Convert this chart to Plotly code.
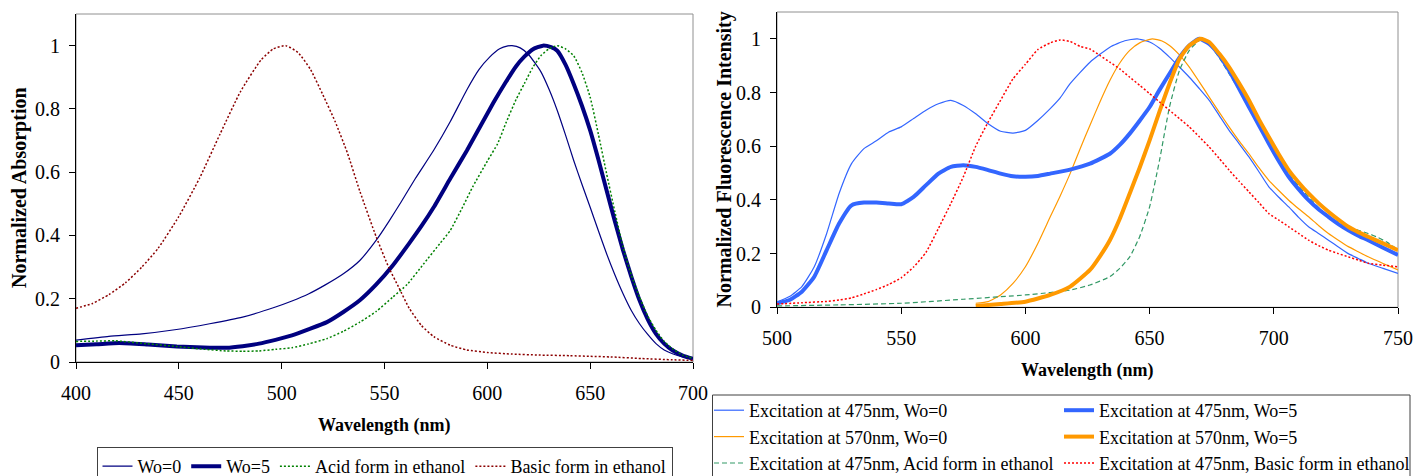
import plotly.graph_objects as go

# ---------------- Left chart: absorption ----------------
abs_wl_wo0 = [400, 416, 432, 448, 465, 481, 497, 505, 513, 521, 530, 538, 546, 552, 558, 565, 574, 582, 590, 596,
              601, 606, 610, 612, 616, 620, 626, 630, 634, 638, 642, 646, 650, 654, 658, 662, 666, 670, 674,
              678, 682, 686, 690, 695, 700]
abs_wo0 = [0.069, 0.081, 0.089, 0.102, 0.121, 0.142, 0.174, 0.193, 0.215, 0.243, 0.279, 0.321, 0.385, 0.443,
           0.505, 0.58, 0.67, 0.76, 0.86, 0.925, 0.963, 0.99, 0.999, 1.0, 0.993, 0.972, 0.918, 0.862, 0.795,
           0.718, 0.637, 0.562, 0.489, 0.415, 0.342, 0.276, 0.216, 0.163, 0.121, 0.087, 0.058, 0.038, 0.026,
           0.016, 0.01]

abs_wl_wo5 = [400, 410, 421, 435, 449, 462, 473, 481, 489, 497, 505, 513, 522, 530, 538, 546, 554, 562, 568, 574,
              582, 590, 597, 603, 609, 614, 618, 622, 627, 631, 634, 638, 642, 646, 650, 654, 658, 662, 666,
              670, 674, 678, 682, 686, 690, 695, 700]
abs_wo5 = [0.053, 0.056, 0.06, 0.055, 0.049, 0.046, 0.045, 0.05, 0.058, 0.07, 0.084, 0.103, 0.126, 0.158, 0.195,
           0.245, 0.305, 0.375, 0.43, 0.49, 0.58, 0.668, 0.75, 0.82, 0.885, 0.935, 0.965, 0.988, 1.0, 0.995,
           0.984, 0.94, 0.879, 0.81, 0.732, 0.64, 0.542, 0.445, 0.353, 0.27, 0.195, 0.135, 0.089, 0.058,
           0.037, 0.02, 0.01]

abs_wl_acid = [400, 410, 419, 434, 449, 461, 473, 481, 489, 497, 505, 513, 522, 530, 538, 546, 554, 561, 569,
               577, 582, 588, 593, 600, 605, 609, 614, 618, 622, 626, 630, 634, 638, 642, 646, 650, 654, 658,
               662, 666, 670, 674, 678, 682, 686, 690, 695, 700]
abs_acid = [0.065, 0.066, 0.067, 0.058, 0.049, 0.041, 0.035, 0.034, 0.035, 0.04, 0.045, 0.057, 0.074, 0.097,
            0.126, 0.16, 0.205, 0.245, 0.31, 0.375, 0.416, 0.49, 0.555, 0.635, 0.69, 0.755, 0.83, 0.88, 0.93,
            0.968, 0.99, 1.0, 0.99, 0.968, 0.915, 0.837, 0.72, 0.595, 0.475, 0.363, 0.275, 0.205, 0.145, 0.1,
            0.065, 0.042, 0.022, 0.012]

abs_wl_basic = [400, 408, 416, 424, 432, 440, 450, 460, 470, 480, 490, 496, 502, 508, 514, 520, 526, 532, 538,
                546, 552, 557, 562, 568, 574, 582, 590, 600, 612, 625, 640, 650, 660, 675, 690, 700]
abs_basic = [0.17, 0.185, 0.213, 0.25, 0.3, 0.36, 0.46, 0.58, 0.72, 0.855, 0.955, 0.99, 1.0, 0.978, 0.925, 0.845,
             0.76, 0.66, 0.54, 0.395, 0.3, 0.235, 0.17, 0.115, 0.08, 0.053, 0.038, 0.03, 0.025, 0.022, 0.02,
             0.018, 0.016, 0.011, 0.007, 0.005]

# ---------------- Right chart: fluorescence ----------------
fl_wl_b0 = [500, 505, 510, 515, 520, 525, 530, 535, 540, 545, 550, 555, 560, 565, 570, 575, 580, 585, 590, 595,
            600, 605, 610, 614, 618, 626, 634, 640, 645, 650, 654, 658, 662, 666, 670, 674, 678, 682, 686, 690,
            694, 698, 702, 706, 710, 714, 718, 722, 726, 730, 734, 738, 744, 750]
fl_b0 = [0.02, 0.04, 0.077, 0.151, 0.275, 0.424, 0.535, 0.591, 0.62, 0.653, 0.672, 0.703, 0.734, 0.758, 0.771,
         0.752, 0.721, 0.684, 0.656, 0.649, 0.659, 0.696, 0.74, 0.78, 0.833, 0.913, 0.969, 0.993, 1.0, 0.988,
         0.965, 0.932, 0.895, 0.857, 0.815, 0.771, 0.715, 0.659, 0.61, 0.56, 0.505, 0.449, 0.41, 0.374, 0.335,
         0.3, 0.275, 0.25, 0.225, 0.2, 0.182, 0.164, 0.145, 0.126]

fl_wl_b5 = [500, 505, 510, 515, 520, 525, 530, 535, 540, 545, 550, 555, 560, 565, 570, 575, 580, 585, 590, 595,
            600, 605, 610, 618, 626, 634, 638, 642, 646, 650, 654, 658, 662, 666, 670, 674, 678, 682, 686, 690,
            694, 698, 702, 706, 710, 714, 718, 722, 726, 730, 734, 738, 744, 750]
fl_b5 = [0.015, 0.027, 0.058, 0.114, 0.213, 0.312, 0.38, 0.39, 0.39, 0.387, 0.384, 0.411, 0.455, 0.498, 0.523,
         0.529, 0.523, 0.511, 0.498, 0.488, 0.486, 0.489, 0.498, 0.513, 0.535, 0.572, 0.605, 0.647, 0.695,
         0.746, 0.81, 0.87, 0.93, 0.975, 1.0, 0.981, 0.94, 0.882, 0.815, 0.746, 0.678, 0.61, 0.545, 0.486,
         0.44, 0.399, 0.365, 0.337, 0.31, 0.287, 0.267, 0.25, 0.222, 0.195]

fl_wl_o0 = [580, 585, 590, 595, 600, 605, 610, 614, 618, 622, 626, 630, 634, 638, 642, 646, 651, 655, 658, 662,
            666, 670, 674, 678, 682, 686, 690, 694, 698, 702, 706, 710, 714, 718, 722, 726, 730, 734, 738, 744,
            750]
fl_o0 = [0.015, 0.021, 0.046, 0.089, 0.151, 0.238, 0.337, 0.415, 0.498, 0.59, 0.678, 0.765, 0.845, 0.91, 0.957,
         0.985, 1.0, 0.992, 0.975, 0.94, 0.895, 0.84, 0.783, 0.727, 0.672, 0.62, 0.572, 0.52, 0.473, 0.435,
         0.399, 0.367, 0.337, 0.305, 0.275, 0.25, 0.226, 0.207, 0.188, 0.163, 0.139]

fl_wl_o5 = [580, 590, 600, 610, 618, 626, 630, 634, 638, 642, 646, 650, 654, 658, 662, 666, 670.5, 674, 678, 682,
            686, 690, 694, 698, 702, 706, 710, 714, 718, 722, 726, 730, 734, 738, 744, 750]
fl_o5 = [0.005, 0.012, 0.021, 0.046, 0.077, 0.139, 0.19, 0.25, 0.33, 0.424, 0.52, 0.622, 0.73, 0.833, 0.925,
         0.975, 1.0, 0.988, 0.945, 0.895, 0.835, 0.771, 0.7, 0.634, 0.57, 0.511, 0.465, 0.424, 0.388, 0.356,
         0.327, 0.3, 0.28, 0.263, 0.238, 0.213]

fl_wl_acid = [500, 525, 550, 575, 600, 610, 618, 626, 634, 638, 642, 646, 650, 654, 658, 662, 666, 670, 672, 674,
              678, 682, 686, 690, 694, 698, 702, 706, 710, 714, 718, 722, 726, 730, 734, 738, 742, 746, 750]
fl_acid = [0.005, 0.009, 0.015, 0.03, 0.046, 0.055, 0.064, 0.083, 0.114, 0.145, 0.188, 0.263, 0.374, 0.548,
           0.746, 0.882, 0.957, 0.994, 1.0, 0.981, 0.93, 0.87, 0.81, 0.746, 0.685, 0.622, 0.56, 0.498, 0.452,
           0.411, 0.372, 0.337, 0.318, 0.3, 0.287, 0.275, 0.26, 0.24, 0.213]

fl_wl_basic = [500, 510, 520, 525, 530, 535, 540, 545, 550, 555, 560, 565, 570, 575, 580, 585, 590, 595, 600, 605,
               610, 614, 618, 622, 626, 630, 634, 638, 642, 646, 650, 654, 658, 662, 666, 670, 674, 678, 682,
               686, 690, 694, 698, 702, 706, 710, 714, 718, 722, 726, 730, 734, 738, 744, 750]
fl_basic = [0.012, 0.017, 0.022, 0.027, 0.035, 0.05, 0.066, 0.085, 0.11, 0.15, 0.205, 0.294, 0.387, 0.486, 0.6,
            0.69, 0.771, 0.851, 0.905, 0.96, 0.985, 0.996, 0.99, 0.972, 0.962, 0.938, 0.913, 0.888, 0.857,
            0.827, 0.796, 0.765, 0.734, 0.703, 0.672, 0.635, 0.597, 0.555, 0.511, 0.47, 0.43, 0.39, 0.349,
            0.325, 0.3, 0.275, 0.25, 0.23, 0.213, 0.2, 0.188, 0.176, 0.164, 0.157, 0.151]

FONT = "Liberation Serif, Times New Roman, serif"
W, H = 1414, 476
NAVY = "#000080"
BLUE = "#3366FF"
ORANGE = "#FF9900"


def px(x):
    return x / W


def py(y):
    return 1 - y / H


fig = go.Figure()


def add(xs, ys, name, color, width, dash, xa, ya, legend):
    fig.add_trace(go.Scatter(
        x=xs, y=ys, name=name, mode="lines", xaxis=xa, yaxis=ya, legend=legend,
        line=dict(color=color, width=width, dash=dash, shape="spline", smoothing=0.5),
        hoverinfo="skip"))


# left
add(abs_wl_wo0, abs_wo0, "Wo=0", NAVY, 1.2, "solid", "x", "y", "legend")
add(abs_wl_wo5, abs_wo5, "Wo=5", NAVY, 4, "solid", "x", "y", "legend")
add(abs_wl_acid, abs_acid, "Acid form in ethanol", "#008000", 1.5, "2px,2px", "x", "y", "legend")
add(abs_wl_basic, abs_basic, "Basic form in ethanol", "#8B0000", 1.5, "2px,2px", "x", "y", "legend")

# right
add(fl_wl_b0, fl_b0, "Excitation at 475nm, Wo=0", BLUE, 1.2, "solid", "x2", "y2", "legend2")
add(fl_wl_o0, fl_o0, "Excitation at 570nm, Wo=0", ORANGE, 1.2, "solid", "x2", "y2", "legend2")
add(fl_wl_acid, fl_acid, "Excitation at 475nm, Acid form in ethanol", "#339966", 1.2, "5px,3px", "x2", "y2", "legend2")
add(fl_wl_b5, fl_b5, "Excitation at 475nm, Wo=5", BLUE, 4, "solid", "x2", "y2", "legend3")
add(fl_wl_o5, fl_o5, "Excitation at 570nm, Wo=5", ORANGE, 4, "solid", "x2", "y2", "legend3")
add(fl_wl_basic, fl_basic, "Excitation at 475nm, Basic form in ethanol", "#FF0000", 1.5, "2px,2px", "x2", "y2", "legend3")

axis_common = dict(showline=True, linecolor="black", linewidth=1, ticks="outside", ticklen=6,
                   tickcolor="black", tickwidth=1, showgrid=False, zeroline=False,
                   tickfont=dict(family=FONT, size=20, color="black"), automargin=False)

legend_font = dict(family=FONT, size=18, color="black")

fig.update_layout(
    width=W, height=H,
    margin=dict(l=0, r=0, t=0, b=0, autoexpand=False),
    paper_bgcolor="white", plot_bgcolor="white",
    font=dict(family=FONT, size=18, color="black"),
    xaxis=dict(domain=[px(76), px(693)], range=[400, 700], dtick=50, tick0=400, anchor="y",
               ticklabelstandoff=7, **axis_common),
    yaxis=dict(domain=[py(362), py(14)], range=[0, 1.1], tickvals=[0, 0.2, 0.4, 0.6, 0.8, 1],
               anchor="x", ticklabelstandoff=5, **axis_common),
    xaxis2=dict(domain=[px(777), px(1398)], range=[500, 750], dtick=50, tick0=500, anchor="y2",
                ticklabelstandoff=7, **axis_common),
    yaxis2=dict(domain=[py(307.3), py(12)], range=[0, 1.1], tickvals=[0, 0.2, 0.4, 0.6, 0.8, 1],
                anchor="x2", ticklabelstandoff=5, **axis_common),
    legend=dict(orientation="h", x=px(384.5), y=py(447), xanchor="center", yanchor="top",
                bordercolor="#404040", borderwidth=1, bgcolor="white", font=legend_font, itemwidth=30),
    legend2=dict(orientation="v", x=px(709), y=py(392), xanchor="left", yanchor="top",
                 borderwidth=0, bgcolor="rgba(0,0,0,0)", font=legend_font, itemwidth=30),
    legend3=dict(orientation="v", x=px(1059), y=py(392), xanchor="left", yanchor="top",
                 borderwidth=0, bgcolor="rgba(0,0,0,0)", font=legend_font, itemwidth=30),
    showlegend=True,
)

# plot-area borders (gray) and right legend box
fig.add_shape(type="rect", xref="x domain", yref="y domain", x0=0, x1=1, y0=0, y1=1,
              line=dict(color="#909090", width=1), layer="below")
fig.add_shape(type="rect", xref="x2 domain", yref="y2 domain", x0=0, x1=1, y0=0, y1=1,
              line=dict(color="#909090", width=1), layer="below")
fig.add_shape(type="rect", xref="paper", yref="paper", x0=px(712.5), x1=px(1410), y0=py(480), y1=py(395),
              line=dict(color="#404040", width=1), layer="below")

# axis titles
title_common = dict(xref="paper", yref="paper", showarrow=False, xanchor="center", yanchor="middle")
fig.add_annotation(text="<b>Normalized Absorption</b>", x=px(20), y=py(188), textangle=-90,
                   font=dict(family=FONT, size=20, color="black"), **title_common)
fig.add_annotation(text="<b>Wavelength (nm)</b>", x=px(384.5), y=py(425),
                   font=dict(family=FONT, size=18, color="black"), **title_common)
fig.add_annotation(text="<b>Normalized Fluorescence Intensity</b>", x=px(724), y=py(159.5), textangle=-90,
                   font=dict(family=FONT, size=20, color="black"), **title_common)
fig.add_annotation(text="<b>Wavelength (nm)</b>", x=px(1087.5), y=py(370),
                   font=dict(family=FONT, size=18, color="black"), **title_common)

# remove the default 8px page margin so the 1414x476 figure fills the window exactly
fig.write_html("out.html", config={"displayModeBar": False},
               post_script="document.body.style.margin='0';document.body.style.overflow='hidden';")
